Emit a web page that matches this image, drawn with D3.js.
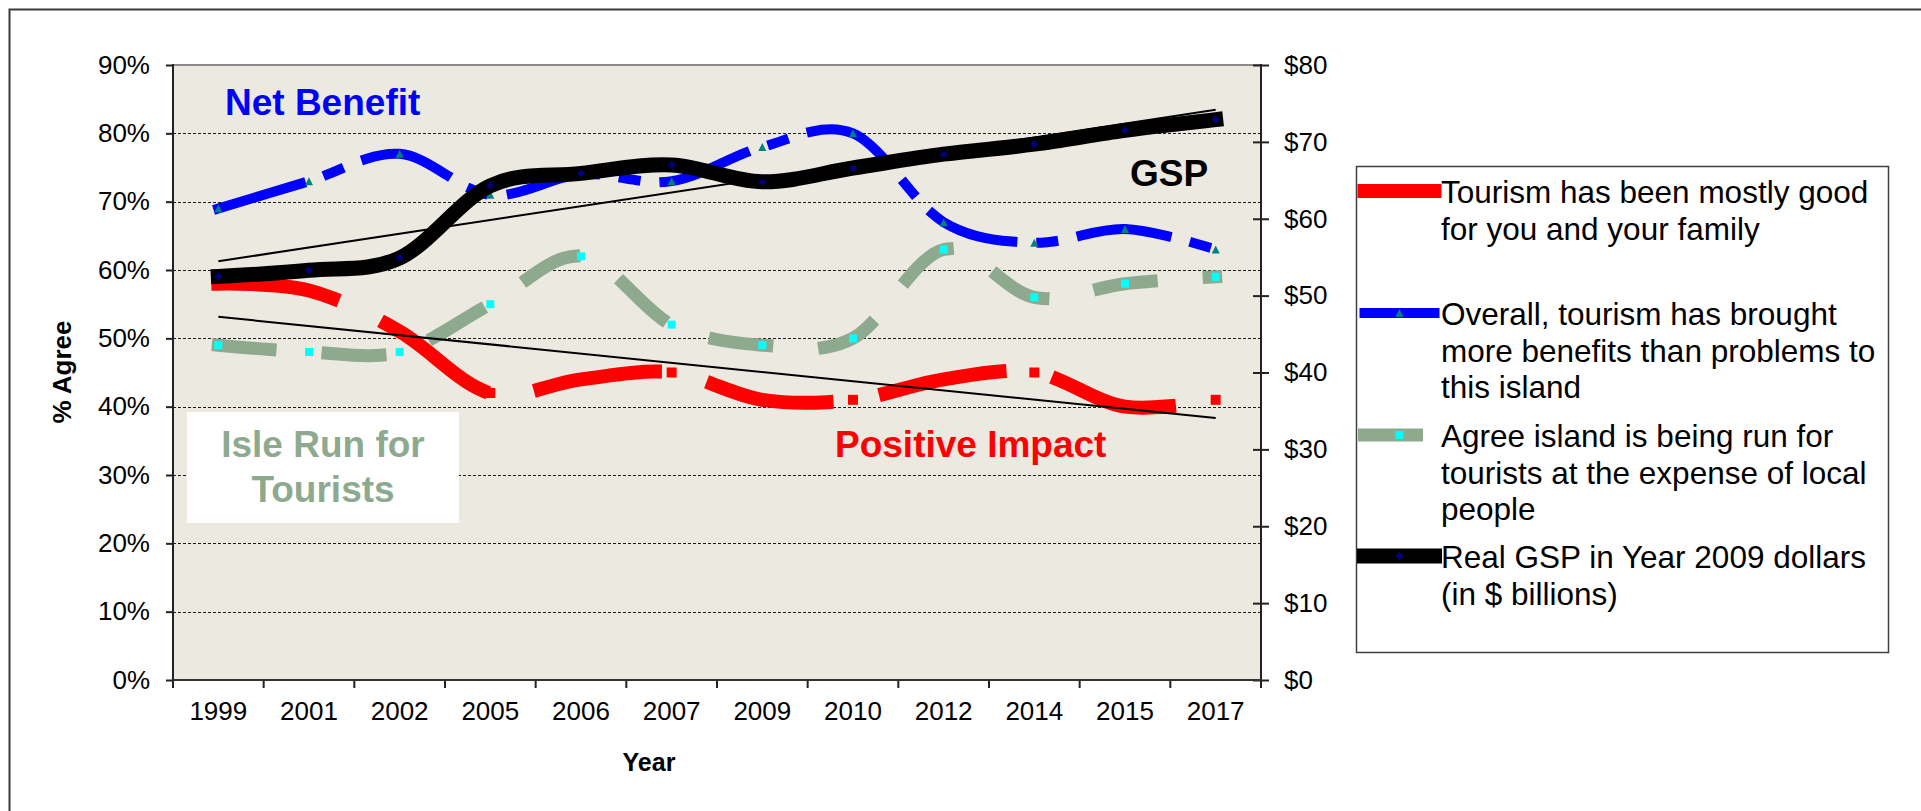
<!DOCTYPE html>
<html><head><meta charset="utf-8">
<script src="https://cdn.jsdelivr.net/npm/d3@7"></script>
<style>
html,body{margin:0;padding:0;background:#fff;overflow:hidden}
text{font-family:"Liberation Sans",Arial,Helvetica,sans-serif}
</style>
</head><body>
<svg id="c" width="1921" height="811"></svg>
<script>
// ---------- data ----------
const years = ["1999","2001","2002","2005","2006","2007","2009","2010","2012","2014","2015","2017"];
const goodForFamily  = [58, 57, 51, 42, 44, 45, 41, 41, 44, 45, 40, 41];   // % agree (left axis)
const moreBenefits   = [69, 73, 77, 71, 74, 73, 78, 80, 67, 64, 66, 63];   // % agree (left axis)
const runForTourists = [49, 48, 48, 55, 62, 52, 49, 50, 63, 56, 58, 59];   // % agree (left axis)
const realGSP        = [52.5, 53.3, 54.9, 64.3, 65.9, 67.0, 64.8, 66.6, 68.4, 69.7, 71.5, 72.9]; // $ billions (right axis)
const leftTicks  = [0, 10, 20, 30, 40, 50, 60, 70, 80, 90];
const rightTicks = [0, 10, 20, 30, 40, 50, 60, 70, 80];
const gridLevels = [10, 20, 30, 40, 50, 60, 70, 80];
const legendLabels = [
  ["Tourism has been mostly good", "for you and your family"],
  ["Overall, tourism has brought", "more benefits than problems to", "this island"],
  ["Agree island is being run for", "tourists at the expense of local", "people"],
  ["Real GSP in Year 2009 dollars", "(in $ billions)"]
];
const annotations = ["Net Benefit", "GSP", "Positive Impact"];
const isleLabel = ["Isle Run for", "Tourists"];

// ---------- layout ----------
const svg = d3.select("#c");
const L = 173, R = 1261, T = 65, B = 680;
const FONT = '"Liberation Sans",Arial,sans-serif';

const x = d3.scaleBand().domain(years).range([L, R]).paddingInner(0).paddingOuter(0);
const cx = d => x(d) + x.bandwidth() / 2;
const yL = d3.scaleLinear().domain([0, 90]).range([B, T]);
const yR = d3.scaleLinear().domain([0, 80]).range([B, T]);

// outer frame
svg.append("path").attr("d", "M9.5,811V9.5H1921").attr("fill", "none")
  .attr("stroke", "#3a3a3a").attr("stroke-width", 2);

// plot background
svg.append("rect").attr("x", L).attr("y", T).attr("width", R - L).attr("height", B - T)
  .attr("fill", "#ECE9E1");

// gridlines
svg.append("g").selectAll("line").data(gridLevels).join("line")
  .attr("x1", L).attr("x2", R).attr("y1", d => Math.round(yL(d)) + 0.5).attr("y2", d => Math.round(yL(d)) + 0.5)
  .attr("stroke", "#1a1a1a").attr("stroke-width", 1).attr("stroke-dasharray", "3,2");

// top border of plot area
svg.append("line").attr("x1", L).attr("x2", R).attr("y1", T).attr("y2", T)
  .attr("stroke", "#8a8a8a").attr("stroke-width", 2);

// "Isle Run for Tourists" white box (sits on the plot, under series)
svg.append("rect").attr("x", 187).attr("y", 412).attr("width", 272).attr("height", 111).attr("fill", "#fff");

// ---------- series ----------
const series = [
  {vals: goodForFamily,  scale: yL, color: "#FF0000", w: 14, dash: "116,60",        mk: "square",   mkColor: "#FF0000", mkSize: 10},
  {vals: moreBenefits,   scale: yL, color: "#0000FF", w: 10, dash: "86,29,12,29",   mk: "triangle", mkColor: "#008080", mkSize: 8},
  {vals: runForTourists, scale: yL, color: "#8EAA8E", w: 13, dash: "52,58",         mk: "square",   mkColor: "#00FFFF", mkSize: 8},
  {vals: realGSP,        scale: yR, color: "#000000", w: 15, dash: null,            mk: "diamond",  mkColor: "#000080", mkSize: 8}
];

function markerPath(type, s) {
  const h = s / 2;
  if (type === "square") return `M${-h},${-h}H${h}V${h}H${-h}Z`;
  if (type === "triangle") return `M0,${-h}L${h},${h}L${-h},${h}Z`;
  return `M0,${-h}L${h},0L0,${h}L${-h},0Z`;
}

const lineGen = (sc) => d3.line().x((d, i) => cx(years[i])).y(d => sc(d)).curve(d3.curveCardinal.tension(0));

series.forEach(s => {
  const g = svg.append("g");
  const p = g.append("path").datum(s.vals).attr("d", lineGen(s.scale)).attr("fill", "none")
    .attr("stroke", s.color).attr("stroke-width", s.w).attr("stroke-linecap", "square")
    .attr("stroke-linejoin", "round");
  if (s.dash) p.attr("stroke-dasharray", s.dash);
  g.selectAll(".mk").data(s.vals).join("path").attr("class", "mk")
    .attr("d", markerPath(s.mk, s.mkSize))
    .attr("transform", (d, i) => `translate(${cx(years[i])},${s.scale(d)})`)
    .attr("fill", s.mkColor);
});

// ---------- linear trend lines ----------
function trend(vals) {
  const n = vals.length, xs = d3.range(n);
  const mx = d3.mean(xs), my = d3.mean(vals);
  const slope = d3.sum(xs, i => (i - mx) * (vals[i] - my)) / d3.sum(xs, i => (i - mx) ** 2);
  const b = my - slope * mx;
  return [b, b + slope * (n - 1)];
}
[[realGSP, yR], [goodForFamily, yL]].forEach(([vals, sc]) => {
  const [a, b] = trend(vals);
  svg.append("line").attr("x1", cx(years[0])).attr("x2", cx(years[years.length - 1]))
    .attr("y1", sc(a)).attr("y2", sc(b)).attr("stroke", "#000").attr("stroke-width", 2);
});

// ---------- axes ----------
// left axis
const gl = svg.append("g").attr("transform", `translate(${L},0)`)
  .call(d3.axisLeft(yL).tickValues(leftTicks).tickFormat(d => d + "%").tickSize(7).tickSizeOuter(0).tickPadding(16));
gl.select(".domain").remove();
gl.selectAll(".tick line").attr("stroke", "#222").attr("stroke-width", 2);
gl.selectAll("text").attr("font-size", 26).attr("fill", "#000").attr("font-family", FONT);
svg.append("line").attr("x1", L).attr("x2", L).attr("y1", T - 1).attr("y2", B + 1).attr("stroke", "#222").attr("stroke-width", 2);

// right axis
const gr = svg.append("g").attr("transform", `translate(${R},0)`)
  .call(d3.axisRight(yR).tickValues(rightTicks).tickFormat(d => "$" + d).tickSize(8).tickSizeOuter(0).tickPadding(15));
gr.select(".domain").remove();
gr.selectAll(".tick line").attr("x1", -8).attr("stroke", "#222").attr("stroke-width", 2);
gr.selectAll("text").attr("font-size", 26).attr("fill", "#000").attr("font-family", FONT);
svg.append("line").attr("x1", R).attr("x2", R).attr("y1", T - 1).attr("y2", B + 1).attr("stroke", "#222").attr("stroke-width", 2);

// bottom axis: labels centred in bands, ticks at band edges
const gb = svg.append("g").attr("transform", `translate(0,${B})`)
  .call(d3.axisBottom(x).tickSize(0).tickPadding(22));
gb.select(".domain").remove();
gb.selectAll("text").attr("font-size", 26).attr("fill", "#000").attr("font-family", FONT);
const edges = years.map(d => x(d)).concat([x.range()[1]]);
svg.append("g").selectAll("line").data(edges).join("line")
  .attr("x1", d => d).attr("x2", d => d).attr("y1", B).attr("y2", B + 8)
  .attr("stroke", "#222").attr("stroke-width", 2);
svg.append("line").attr("x1", L).attr("x2", R).attr("y1", B).attr("y2", B).attr("stroke", "#333").attr("stroke-width", 2);

// axis titles
svg.append("text").attr("transform", "translate(71,372) rotate(-90)").attr("text-anchor", "middle")
  .attr("font-size", 26).attr("font-weight", "bold").text("% Agree");
svg.append("text").attr("x", 649).attr("y", 771).attr("text-anchor", "middle")
  .attr("font-size", 25).attr("font-weight", "bold").text("Year");

// ---------- annotations ----------
svg.append("text").attr("x", 225).attr("y", 115).attr("font-size", 37).attr("font-weight", "bold")
  .attr("fill", "#0000FF").text(annotations[0]);
svg.append("text").attr("x", 1130).attr("y", 186).attr("font-size", 37).attr("font-weight", "bold")
  .attr("fill", "#000").text(annotations[1]);
svg.append("text").attr("x", 835).attr("y", 457).attr("font-size", 37).attr("font-weight", "bold")
  .attr("fill", "#FF0000").text(annotations[2]);
svg.append("g").selectAll("text").data(isleLabel).join("text")
  .attr("x", 323).attr("y", (d, i) => 457 + i * 45).attr("text-anchor", "middle")
  .attr("font-size", 37).attr("font-weight", "bold").attr("fill", "#8EAA8E").text(d => d);

// ---------- legend ----------
svg.append("rect").attr("x", 1356.5).attr("y", 166.5).attr("width", 532).attr("height", 486)
  .attr("fill", "#fff").attr("stroke", "#404040").attr("stroke-width", 1.5);
const legY = [191, 313, 435, 556];
series.forEach((s, k) => {
  const g = svg.append("g");
  const ln = g.append("line").attr("x1", 1364.5).attr("x2", 1434.5).attr("y1", legY[k]).attr("y2", legY[k])
    .attr("stroke", s.color).attr("stroke-width", s.w).attr("stroke-linecap", "square");
  if (s.dash) ln.attr("stroke-dasharray", s.dash);
  g.append("path").attr("d", markerPath(s.mk, s.mkSize)).attr("transform", `translate(1399.5,${legY[k]})`)
    .attr("fill", s.mkColor);
  g.selectAll("text").data(legendLabels[k]).join("text")
    .attr("x", 1441).attr("y", (d, i) => legY[k] + 12 + i * 36.5)
    .attr("font-size", 31.5).attr("fill", "#000").text(d => d);
});
</script>
</body></html>
